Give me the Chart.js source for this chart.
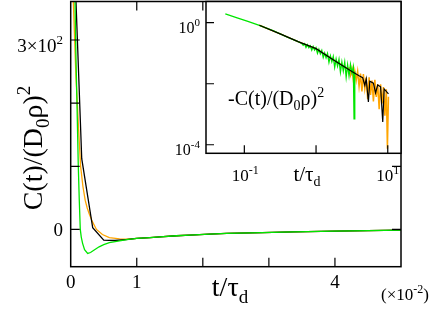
<!DOCTYPE html>
<html>
<head>
<meta charset="utf-8">
<script src="https://cdn.jsdelivr.net/npm/chart.js@4.4.1/dist/chart.umd.min.js"></script>
<style>
  body { margin: 0; background: #fff; }
  #wrap { position: relative; width: 436px; height: 313px; }
  #mainChart { position: absolute; left: 0; top: 0; }
  #insetChart { position: absolute; left: 150px; top: 0; }
</style>
</head>
<body>
<div id="wrap">
  <canvas id="mainChart" width="436" height="313"></canvas>
  <canvas id="insetChart" width="286" height="200"></canvas>
</div>
<script>
// main panel, t/tau_d in units of 1e-2
const tailT = [1.0, 1.2, 1.35, 1.6, 1.8, 2.1, 2.36, 2.9, 3.37, 4.0, 4.5, 5.0];
const tailC = [-14.2, -12.8, -11.7, -10.0, -9.0, -7.5, -6.3, -5.0, -3.8, -2.6, -1.8, -1.1];

const mainBlackT = [0, 0.167, 0.333, 0.5, 0.667, 0.833];
const mainBlackC = [590, 112, 2.6, -17, -17.5, -16];

const mainOrangeT = [0, 0.02, 0.04, 0.06, 0.08, 0.1, 0.125, 0.15, 0.185, 0.22, 0.25, 0.28, 0.33, 0.39, 0.48, 0.585, 0.74, 0.85];
const mainOrangeC = [620, 480, 360, 300, 240, 200, 148, 100, 68, 46, 34, 25, 12, 0, -8, -13, -15, -15.5];

const mainGreenT = [0.03, 0.05, 0.065, 0.08, 0.095, 0.115, 0.13, 0.145, 0.16, 0.18, 0.21, 0.257, 0.3, 0.35, 0.43, 0.5, 0.585, 0.74, 0.85];
const mainGreenC = [900, 560, 360, 270, 200, 100, 46, 0, -12, -22, -32, -38, -36.5, -33, -27.5, -24, -21, -18, -16];

const mainXTicks = [1, 2, 3, 4];
const mainXLabels = [[0, "0"], [1, "1"], [4, "4"]];
const mainYTicks = [0, 100, 200, 300];

// inset, log-log of -C(t)
const insetGreenT = [0.0543, 0.0794, 0.112, 0.162, 0.251, 0.398, 0.562,
  0.631, 0.661, 0.692, 0.724, 0.759, 0.794, 0.832, 0.871, 0.912, 0.955,
  1.0, 1.047, 1.096, 1.148, 1.202, 1.259, 1.318, 1.380, 1.445, 1.514,
  1.585, 1.660, 1.738, 1.820, 1.905, 1.995, 2.089, 2.188, 2.291, 2.399,
  2.512, 2.630, 2.754, 2.884, 3.020, 3.162, 3.311, 3.388, 3.467];
const insetGreenC = [1.93, 1.445, 1.096, 0.822, 0.550, 0.339, 0.240,
  0.209, 0.182, 0.204, 0.155, 0.191, 0.151, 0.174, 0.126, 0.166, 0.126,
  0.151, 0.100, 0.135, 0.0955, 0.123, 0.0724, 0.102, 0.0708, 0.0977, 0.0501,
  0.0813, 0.0525, 0.0776, 0.0347, 0.0646, 0.0380, 0.0631, 0.0240, 0.0513, 0.0263,
  0.0513, 0.0166, 0.0417, 0.0182, 0.0427, 0.0224, 0.0355, 0.000708, 0.0251];

const insetBlackT = [0.162, 0.316, 0.562, 1.0, 1.778, 3.162, 3.981, 4.467, 4.786, 5.012,
  5.370, 5.623, 6.310, 6.761, 7.244, 7.943, 8.511, 8.913, 10.23];
const insetBlackC = [0.822, 0.431, 0.240, 0.141, 0.0589, 0.0251, 0.0182, 0.0158, 0.00891, 0.01445,
  0.00251, 0.0120, 0.01047, 0.00501, 0.00912, 0.00794, 0.000562, 0.00676, 0.00468];

const insetOrangeT = [0.162, 0.316, 0.562, 1.0, 1.778, 2.754,
  2.884, 3.020, 3.162, 3.311, 3.467, 3.631, 3.802, 3.981, 4.169, 4.365,
  4.571, 4.786, 5.012, 5.248, 5.495, 5.754, 6.026, 6.310, 6.607, 6.918,
  7.244, 7.586, 7.943, 8.318, 8.710, 9.120, 9.550, 9.886, 10.23];
const insetOrangeC = [0.822, 0.431, 0.240, 0.141, 0.0589, 0.0309,
  0.0324, 0.0191, 0.0316, 0.0132, 0.0263, 0.0129, 0.0257, 0.00813, 0.0214, 0.00562,
  0.0209, 0.00692, 0.0158, 0.00309, 0.0162, 0.00427, 0.0126, 0.00263, 0.0135, 0.00372,
  0.00977, 0.00145, 0.00955, 0.00224, 0.00776, 0.000891, 0.00661, 0.0000741, 0.00372];

const insetXTicks = [0.1, 1, 10];
const insetYTicks = [1, 0.01, 0.0001];

const SERIF = "'Liberation Serif', 'Times New Roman', serif";

function pts(ts, cs) {
  return ts.map((t, i) => ({ x: t, y: cs[i] }));
}

function line(label, data, color, order, width) {
  return {
    label, data, order,
    borderColor: color,
    borderWidth: width || 1.3,
    pointRadius: 0,
    showLine: true,
    tension: 0
  };
}

// text with super/subscripts: parts = [[text, "n"|"sup"|"sub"], ...]
function rich(ctx, parts, x, y, size, align) {
  const fontOf = k => (k === "n" ? size : Math.round(size * 0.68)) + "px " + SERIF;
  const widths = parts.map(p => { ctx.font = fontOf(p[1]); return ctx.measureText(p[0]).width; });
  const total = widths.reduce((a, b) => a + b, 0);
  let cx = align === "center" ? x - total / 2 : align === "right" ? x - total : x;
  ctx.fillStyle = "#000";
  ctx.textAlign = "left";
  ctx.textBaseline = "alphabetic";
  parts.forEach((p, i) => {
    ctx.font = fontOf(p[1]);
    const dy = p[1] === "sup" ? -size * 0.42 : p[1] === "sub" ? size * 0.25 : 0;
    ctx.fillText(p[0], cx, y + dy);
    cx += widths[i];
  });
}

const mainFrame = {
  id: "mainFrame",
  afterDraw(chart) {
    const { ctx, chartArea: a, scales } = chart;
    const xs = scales.x, ys = scales.y;
    ctx.save();
    ctx.strokeStyle = "#000";
    ctx.lineWidth = 1.2;
    ctx.beginPath();
    mainXTicks.forEach(v => {
      const px = xs.getPixelForValue(v);
      ctx.moveTo(px, a.bottom); ctx.lineTo(px, a.bottom - 9);
      ctx.moveTo(px, a.top); ctx.lineTo(px, a.top + 9);
    });
    mainYTicks.forEach(v => {
      const py = ys.getPixelForValue(v);
      ctx.moveTo(a.left, py); ctx.lineTo(a.left + 9, py);
      ctx.moveTo(a.right, py); ctx.lineTo(a.right - 9, py);
    });
    ctx.stroke();
    ctx.lineWidth = 1.5;
    ctx.strokeRect(a.left, a.top, a.right - a.left, a.bottom - a.top);

    mainXLabels.forEach(([v, s]) => {
      rich(ctx, [[s, "n"]], xs.getPixelForValue(v), 288, 19, "center");
    });
    rich(ctx, [["0", "n"]], 63, ys.getPixelForValue(0) + 7, 19, "right");
    rich(ctx, [["3×10", "n"], ["2", "sup"]], 63, ys.getPixelForValue(300) + 12, 19, "right");

    rich(ctx, [["t/τ", "n"], ["d", "sub"]], 230, 296, 28, "center");
    rich(ctx, [["(×10", "n"], ["-2", "sup"], [")", "n"]], 405, 300, 17, "center");

    ctx.translate(42, 148);
    ctx.rotate(-Math.PI / 2);
    rich(ctx, [["C(t)/(D", "n"], ["0", "sub"], ["ρ)", "n"], ["2", "sup"]], 0, 0, 28, "center");
    ctx.restore();
  }
};

const insetFrame = {
  id: "insetFrame",
  beforeDraw(chart) {
    const { ctx, chartArea: a } = chart;
    ctx.save();
    ctx.fillStyle = "#fff";
    ctx.fillRect(a.left, a.top, a.right - a.left, a.bottom - a.top);
    ctx.restore();
  },
  afterDraw(chart) {
    const { ctx, chartArea: a, scales } = chart;
    const xs = scales.x, ys = scales.y;
    ctx.save();
    ctx.strokeStyle = "#000";
    ctx.lineWidth = 1.2;
    ctx.beginPath();
    insetXTicks.forEach(v => {
      const px = xs.getPixelForValue(v);
      ctx.moveTo(px, a.bottom); ctx.lineTo(px, a.bottom - 8);
    });
    insetYTicks.forEach(v => {
      const py = ys.getPixelForValue(v);
      ctx.moveTo(a.left, py); ctx.lineTo(a.left + 8, py);
    });
    ctx.stroke();
    ctx.lineWidth = 1.5;
    ctx.strokeRect(a.left, a.top, a.right - a.left, a.bottom - a.top);

    rich(ctx, [["10", "n"], ["0", "sup"]], a.left - 6, ys.getPixelForValue(1) + 10, 16, "right");
    rich(ctx, [["10", "n"], ["-4", "sup"]], a.left - 6, ys.getPixelForValue(0.0001) + 10, 16, "right");
    rich(ctx, [["10", "n"], ["-1", "sup"]], xs.getPixelForValue(0.1) + 1, 181, 17, "center");
    rich(ctx, [["10", "n"], ["1", "sup"]], xs.getPixelForValue(10), 181, 17, "center");
    rich(ctx, [["t/τ", "n"], ["d", "sub"]], 157, 181, 21, "center");
    rich(ctx, [["-C(t)/(D", "n"], ["0", "sub"], ["ρ)", "n"], ["2", "sup"]], 78, 105, 20, "left");
    ctx.restore();
  }
};

new Chart(document.getElementById("mainChart"), {
  type: "scatter",
  data: {
    datasets: [
      line("black", pts(mainBlackT.concat(tailT), mainBlackC.concat(tailC)), "#000000", 1),
      line("orange", pts(mainOrangeT.concat(tailT), mainOrangeC.concat(tailC)), "#ffa500", 2),
      line("green", pts(mainGreenT.concat(tailT), mainGreenC.concat(tailC)), "#00e600", 0)
    ]
  },
  options: {
    responsive: false,
    animation: false,
    layout: { padding: { left: 70.7, right: 35, top: 1.5, bottom: 46.3 } },
    plugins: { legend: { display: false }, tooltip: { enabled: false } },
    scales: {
      x: { type: "linear", min: 0, max: 5, display: false },
      y: { type: "linear", min: -59, max: 361, display: false }
    }
  },
  plugins: [mainFrame]
});

new Chart(document.getElementById("insetChart"), {
  type: "scatter",
  data: {
    datasets: [
      line("orange", pts(insetOrangeT, insetOrangeC), "#ffa500", 2, 1.5),
      line("green", pts(insetGreenT, insetGreenC), "#00e600", 1, 1.3),
      line("black", pts(insetBlackT, insetBlackC), "#000000", 0, 1.2)
    ]
  },
  options: {
    responsive: false,
    animation: false,
    layout: { padding: { left: 56, right: 35, top: 1.5, bottom: 46.7 } },
    plugins: { legend: { display: false }, tooltip: { enabled: false } },
    scales: {
      x: { type: "logarithmic", min: 0.0292, max: 15.3, display: false },
      y: { type: "logarithmic", min: 0.0000525, max: 4.95, display: false }
    }
  },
  plugins: [insetFrame]
});
</script>
</body>
</html>
